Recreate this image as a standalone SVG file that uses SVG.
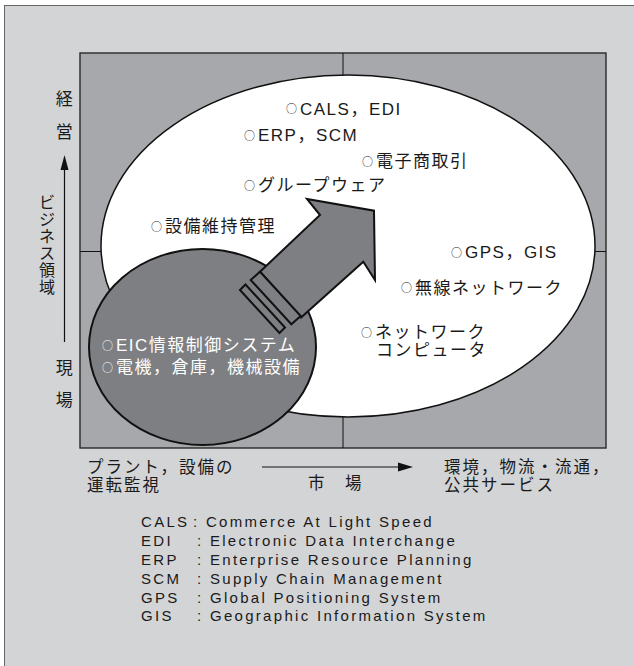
<svg xmlns="http://www.w3.org/2000/svg" width="634" height="666" viewBox="0 0 634 666">
<defs>
<style>
.t{font-family:"Liberation Sans","Noto Sans CJK JP",sans-serif;font-size:17px;letter-spacing:1.5px;fill:#1a1a1a}
.s{font-size:16.5px;letter-spacing:2px}
.w{fill:#ffffff}
.o{font-family:"Noto Sans CJK JP",sans-serif;font-size:11px;letter-spacing:0}
.lg{font-family:"Liberation Sans","Noto Sans CJK JP",sans-serif;font-size:15px;letter-spacing:2.3px;fill:#1a1a1a}
.gray{fill:#7e7f83;stroke:#111;stroke-width:2;stroke-linejoin:miter}
.ax{stroke:#111;stroke-width:1.2;fill:none}
</style>
</defs>
<rect width="634" height="666" fill="#ffffff"/>
<rect id="frame" x="4.5" y="5.5" width="700" height="700" fill="#d3d4d6" stroke="#666" stroke-width="1"/>

<g id="field">
<rect x="80" y="53" width="526" height="395" fill="#a7a8ab" stroke="#2a2a2a" stroke-width="1.4"/>
<line x1="343" y1="53" x2="343" y2="448" stroke="#111" stroke-width="1"/>
<line x1="80" y1="251.5" x2="606" y2="251.5" stroke="#111" stroke-width="1"/>
</g>

<g id="market-ellipse">
<ellipse cx="348" cy="246" rx="247" ry="171" fill="#ffffff" stroke="#111" stroke-width="1.5"/>
</g>

<g id="site-circle">
<ellipse cx="202.5" cy="347" rx="113.5" ry="98" class="gray"/>
</g>

<g id="big-arrow">
<polygon class="gray" points="260,271.7 320,215 307,199 374,210.7 375,280 363.3,261.7 301,317.5"/>
<polygon class="gray" stroke-width="1.6" points="250.7,280 260,271.7 300.7,316 291.4,324.3"/>
<polygon class="gray" stroke-width="1.6" points="240,290 245.5,284.5 285,327.5 279.5,333"/>
</g>

<g id="connectors">
<line class="ax" x1="64.5" y1="342" x2="64.5" y2="166"/>
<polygon points="64.5,155 60.5,170 68.5,170" fill="#111"/>
<line class="ax" x1="262" y1="467" x2="400" y2="467"/>
<polygon points="413,467 398,462.5 398,471.5" fill="#111"/>
</g>

<g id="axis-labels">
<text class="t" text-anchor="middle" x="65" y="105">経</text>
<text class="t" text-anchor="middle" x="65" y="138">営</text>
<text class="t" text-anchor="middle" x="65" y="374">現</text>
<text class="t" text-anchor="middle" x="65" y="406">場</text>
<text class="t" text-anchor="middle" style="font-size:16px;letter-spacing:0"><tspan x="47" y="208">ビ</tspan><tspan x="47" y="225">ジ</tspan><tspan x="47" y="242">ネ</tspan><tspan x="47" y="259">ス</tspan><tspan x="47" y="276">領</tspan><tspan x="47" y="293">域</tspan></text>
<text class="t s"><tspan x="87" y="473">プラント，設備の</tspan><tspan x="87" y="491">運転監視</tspan></text>
<text class="t s" x="308" y="489">市　場</text>
<text class="t s"><tspan x="444" y="473">環境，物流・流通，</tspan><tspan x="444" y="491">公共サービス</tspan></text>
</g>

<g id="items">
<g id="n-cals"><text class="t" x="286" y="114.5"><tspan class="o" dy="-1.5">○</tspan><tspan dx="3" dy="1.5">CALS，EDI</tspan></text></g>
<g id="n-erp"><text class="t" x="244" y="141"><tspan class="o" dy="-1.5">○</tspan><tspan dx="3" dy="1.5">ERP，SCM</tspan></text></g>
<g id="n-ec"><text class="t" x="362" y="167"><tspan class="o" dy="-1.5">○</tspan><tspan dx="3" dy="1.5">電子商取引</tspan></text></g>
<g id="n-gw"><text class="t" x="244" y="191"><tspan class="o" dy="-1.5">○</tspan><tspan dx="3" dy="1.5">グループウェア</tspan></text></g>
<g id="n-maint"><text class="t" x="151" y="232"><tspan class="o" dy="-1.5">○</tspan><tspan dx="3" dy="1.5">設備維持管理</tspan></text></g>
<g id="n-gps"><text class="t" x="451" y="258"><tspan class="o" dy="-1.5">○</tspan><tspan dx="3" dy="1.5">GPS，GIS</tspan></text></g>
<g id="n-wl"><text class="t" x="401" y="293.5"><tspan class="o" dy="-1.5">○</tspan><tspan dx="3" dy="1.5">無線ネットワーク</tspan></text></g>
<g id="n-nc"><text class="t" x="361" y="338"><tspan class="o" dy="-1.5">○</tspan><tspan dx="3" dy="1.5">ネットワーク</tspan><tspan x="376" y="355.5">コンピュータ</tspan></text></g>
<g id="n-eic"><text class="t w" x="102" y="351"><tspan class="o" dy="-1.5">○</tspan><tspan dx="3" dy="1.5">EIC情報制御システム</tspan></text></g>
<g id="n-equip"><text class="t w" x="102" y="373"><tspan class="o" dy="-1.5">○</tspan><tspan dx="3" dy="1.5">電機，倉庫，機械設備</tspan></text></g>
</g>

<g id="legend">
<text class="lg" y="527"><tspan x="141">CALS</tspan><tspan x="193">: Commerce At Light Speed</tspan></text>
<text class="lg" y="546"><tspan x="141">EDI</tspan><tspan x="197">: Electronic Data Interchange</tspan></text>
<text class="lg" y="565"><tspan x="141">ERP</tspan><tspan x="197">: Enterprise Resource Planning</tspan></text>
<text class="lg" y="583.5"><tspan x="141">SCM</tspan><tspan x="197">: Supply Chain Management</tspan></text>
<text class="lg" y="602.5"><tspan x="141">GPS</tspan><tspan x="197">: Global Positioning System</tspan></text>
<text class="lg" y="621"><tspan x="141">GIS</tspan><tspan x="197">: Geographic Information System</tspan></text>
</g>
</svg>
